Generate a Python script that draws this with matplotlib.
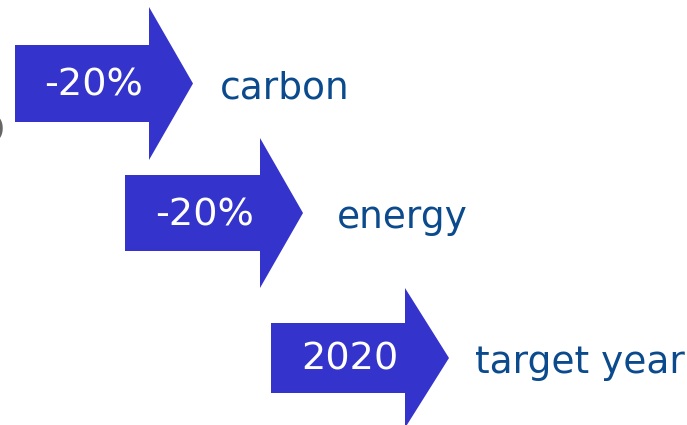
"""Three target arrows: -20% carbon, -20% energy, 2020 target year."""
import matplotlib
matplotlib.use("Agg")
import matplotlib.pyplot as plt
from matplotlib.patches import Polygon

arrow_labels = ["-20%", "-20%", "2020"]
captions = ["carbon", "energy", "target year"]

ARROW_COLOR = "#3434cc"
TEXT_COLOR = "#0b4a8c"

# layout in pixel coords: (body_left, body_top, body_bottom, head_x, head_top, head_bottom, tip_x)
arrow_geom = [
    (15, 45, 122, 149, 7, 160, 193),
    (125, 175, 251, 260, 138, 288, 303),
    (271, 323, 393, 405, 288, 428, 449),
]
caption_x = [220, 337, 475]

fig = plt.figure(figsize=(6.87, 4.25), dpi=100)
ax = fig.add_axes([0, 0, 1, 1])
ax.set_xlim(0, 687)
ax.set_ylim(425, 0)
ax.axis("off")

for (bl, bt, bb, hx, ht, hb, tx), lab, cap, cx in zip(arrow_geom, arrow_labels, captions, caption_x):
    cy = (bt + bb) / 2
    pts = [(bl, bt), (hx, bt), (hx, ht), (tx, cy), (hx, hb), (hx, bb), (bl, bb)]
    ax.add_patch(Polygon(pts, closed=True, facecolor=ARROW_COLOR, edgecolor="none"))
    ax.text((bl + hx) / 2 + 12, cy + 2, lab, color="white", fontsize=27.5,
            ha="center", va="center", family="DejaVu Sans")
    ax.text(cx, cy + 15, cap, color=TEXT_COLOR, fontsize=27,
            ha="left", va="baseline", family="DejaVu Sans")

# partial grey glyph cut off at the left edge, as in the source slide
ax.text(5, 128, "o", color="#666666", fontsize=40, ha="right", va="center",
        fontweight="bold")

fig.savefig("out.png", dpi=100)
